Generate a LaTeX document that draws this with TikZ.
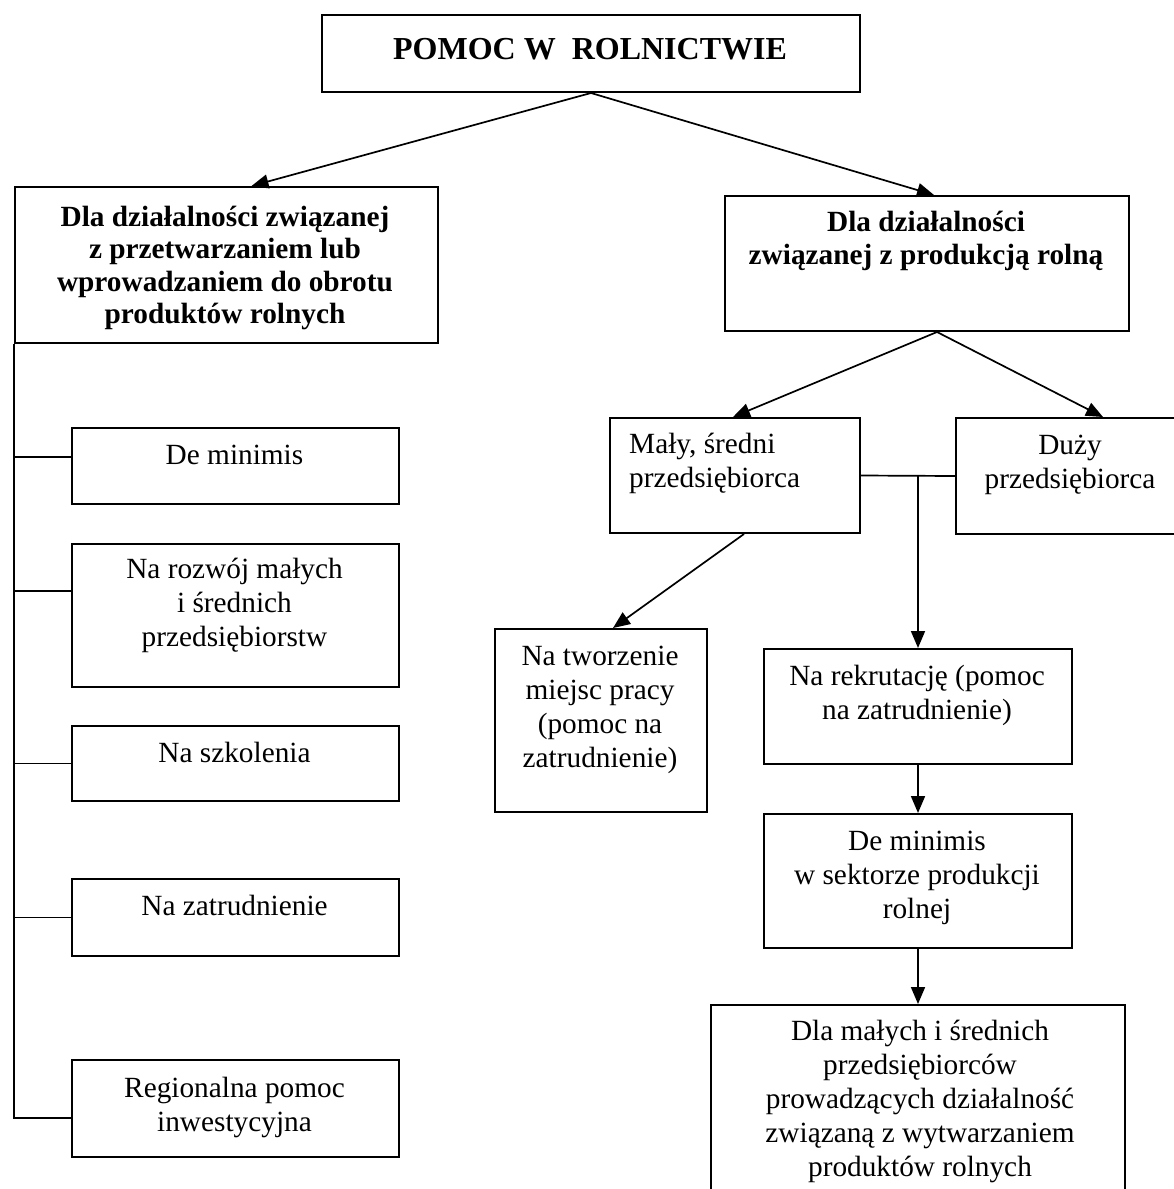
\documentclass[tikz,border=0pt]{standalone}
\usepackage{fontspec}
\setmainfont{Liberation Serif}
\usetikzlibrary{arrows.meta}
\newcommand\bodyfont{\fontsize{29.3}{34}\selectfont}
\newcommand\headfont{\fontsize{29.3}{32.5}\selectfont\bfseries}
\newcommand\titlefont{\fontsize{32}{38}\selectfont\bfseries}

\begin{document}
\begin{tikzpicture}[x=1pt,y=-1pt,
  box/.style={draw, line width=2pt, inner sep=0pt, anchor=north west},
  txt/.style={anchor=north, inner sep=0pt, align=center, font=\bodyfont, yshift=23.8pt},
  hdr/.style={anchor=north, inner sep=0pt, align=center, font=\headfont, yshift=22.75pt},
  link/.style={line width=1.7pt},
  arr/.style={link, -{Triangle[length=17pt,width=14pt]}}]

\path[use as bounding box] (0,0) rectangle (1174,1189);
\clip (0,0) rectangle (1174,1189);

% --- boxes ---
\node[box, minimum width=538pt, minimum height=77pt]  (top)   at (321,14)   {};
\node[box, minimum width=423pt, minimum height=156pt] (lbox)  at (14,186)   {};
\node[box, minimum width=404pt, minimum height=135pt] (rbox)  at (724,195)  {};
\node[box, minimum width=250pt, minimum height=115pt] (male)  at (609,417)  {};
\node[box, minimum width=235pt, minimum height=116pt] (duzy)  at (955,417)  {};
\node[box, minimum width=212pt, minimum height=183pt] (tworz) at (494,628)  {};
\node[box, minimum width=308pt, minimum height=115pt] (rekr)  at (763,648)  {};
\node[box, minimum width=308pt, minimum height=134pt] (demin) at (763,813)  {};
\node[box, minimum width=414pt, minimum height=200pt] (dla)   at (710,1004) {};
\node[box, minimum width=327pt, minimum height=76pt]  (dm)    at (71,427)   {};
\node[box, minimum width=327pt, minimum height=143pt] (rozw)  at (71,543)   {};
\node[box, minimum width=327pt, minimum height=75pt]  (szk)   at (71,725)   {};
\node[box, minimum width=327pt, minimum height=77pt]  (zat)   at (71,878)   {};
\node[box, minimum width=327pt, minimum height=97pt]  (reg)   at (71,1059)  {};

% --- texts (placed by the baseline of their first line) ---
\node[anchor=north, inner sep=0pt, font=\titlefont, yshift=26.6pt] (top-t) at (590,59)
  {\strut POMOC W\ \ ROLNICTWIE};
\node[hdr] (lbox-t) at (225,226)
  {\strut Dla działalności związanej\\ z przetwarzaniem lub\\ wprowadzaniem do obrotu\\ produktów rolnych};
\node[hdr, yshift=1.25pt] (rbox-t) at (926,233)
  {\strut Dla działalności\\ związanej z produkcją rolną};
\node[txt, anchor=north west, align=left] (male-t) at (629,453)
  {\strut Mały, średni\\ przedsiębiorca};
\node[txt] (duzy-t) at (1070,454) {\strut Duży\\ przedsiębiorca};
\node[txt] (tworz-t) at (600,665)
  {\strut Na tworzenie\\ miejsc pracy\\ (pomoc na\\ zatrudnienie)};
\node[txt] (rekr-t) at (917,685) {\strut Na rekrutację (pomoc\\ na zatrudnienie)};
\node[txt] (demin-t) at (917,850) {\strut De minimis\\ w sektorze produkcji\\ rolnej};
\node[txt] (dla-t) at (920,1040)
  {\strut Dla małych i średnich\\ przedsiębiorców\\ prowadzących działalność\\ związaną z wytwarzaniem\\ produktów rolnych};
\node[txt] (dm-t)   at (234.5,464)  {\strut De minimis};
\node[txt] (rozw-t) at (234.5,578)  {\strut Na rozwój małych\\ i średnich\\ przedsiębiorstw};
\node[txt] (szk-t)  at (234.5,762)  {\strut Na szkolenia};
\node[txt] (zat-t)  at (234.5,915)  {\strut Na zatrudnienie};
\node[txt] (reg-t)  at (234.5,1097) {\strut Regionalna pomoc\\ inwestycyjna};

% --- connectors ---
\draw[arr] (top.south) -- ([xshift=25pt]lbox.north);
\draw[arr] (top.south) -- ([xshift=7pt]rbox.north);
\draw[arr] ([xshift=10pt]rbox.south) -- ([xshift=-2pt]male.north);
\draw[arr] ([xshift=10pt]rbox.south) -- ([xshift=29.5pt]duzy.north);
\draw[link] (male.east) -- (duzy.west);
\draw[arr] (rekr.north |- male.east) -- (rekr.north);
\draw[arr] ([xshift=9pt]male.south) -- ([xshift=12pt]tworz.north);
\draw[arr] (rekr.south) -- (demin.north);
\draw[arr] (demin.south) -- (dla.north);

% left branch: a spine with a tick to every box
\coordinate (t1) at ([yshift=9pt]dm.west);
\coordinate (t2) at ([yshift=24.5pt]rozw.west);
\coordinate (t3) at (szk.west);
\coordinate (t4) at (zat.west);
\coordinate (t5) at ([yshift=-9.5pt]reg.west);
\draw[link] (lbox.south west) -- (lbox.south west |- t5) -- (t5);
\draw[link] (lbox.south west |- t1) -- (t1);
\draw[link] (lbox.south west |- t2) -- (t2);
\draw[link] (lbox.south west |- t3) -- (t3);
\draw[link] (lbox.south west |- t4) -- (t4);
\end{tikzpicture}
\end{document}
